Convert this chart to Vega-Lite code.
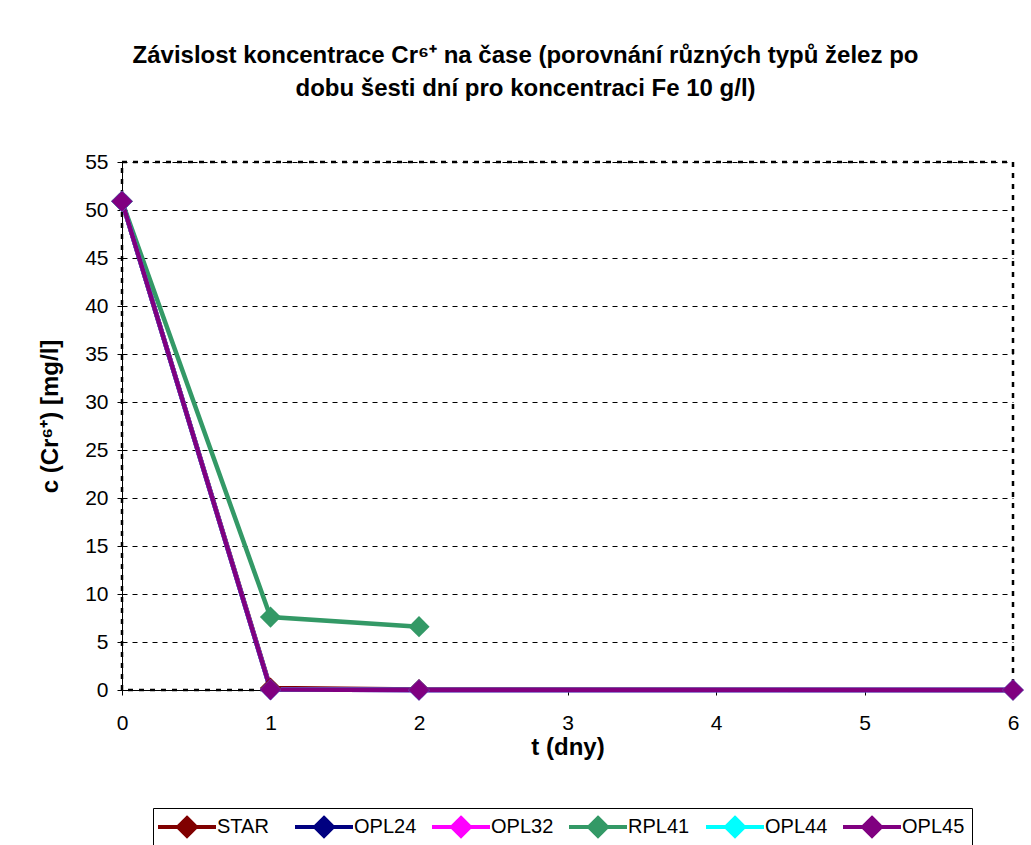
{
  "$schema": "https://vega.github.io/schema/vega-lite/v6.json",
  "width": 891,
  "height": 528,
  "autosize": {"type": "none"},
  "padding": {"left": 122, "top": 162, "right": 18, "bottom": 155},
  "background": "white",
  "title": {
    "text": ["Závislost koncentrace Cr⁶⁺ na čase (porovnání různých typů želez po", "dobu šesti dní pro koncentraci Fe 10 g/l)"],
    "anchor": "middle",
    "dx": -42,
    "offset": 50,
    "font": "Liberation Sans",
    "fontSize": 24,
    "fontWeight": "bold",
    "lineHeight": 33,
    "color": "black"
  },
  "config": {
    "font": "Liberation Sans",
    "view": {"stroke": "black", "strokeWidth": 2.5, "strokeDash": [5, 6]}
  },
  "data": {
    "values": [
      {"t": 0, "c": 50.9, "serie": "STAR"},
      {"t": 1, "c": 0.2, "serie": "STAR"},
      {"t": 2, "c": 0.05, "serie": "STAR"},
      {"t": 6, "c": 0, "serie": "STAR"},
      {"t": 0, "c": 50.9, "serie": "OPL24"},
      {"t": 1, "c": 0.05, "serie": "OPL24"},
      {"t": 2, "c": 0, "serie": "OPL24"},
      {"t": 6, "c": 0, "serie": "OPL24"},
      {"t": 0, "c": 50.9, "serie": "OPL32"},
      {"t": 1, "c": 0.05, "serie": "OPL32"},
      {"t": 2, "c": 0, "serie": "OPL32"},
      {"t": 6, "c": 0, "serie": "OPL32"},
      {"t": 0, "c": 50.9, "serie": "RPL41"},
      {"t": 1, "c": 7.6, "serie": "RPL41"},
      {"t": 2, "c": 6.6, "serie": "RPL41"},
      {"t": 0, "c": 50.9, "serie": "OPL44"},
      {"t": 1, "c": 0.05, "serie": "OPL44"},
      {"t": 2, "c": 0, "serie": "OPL44"},
      {"t": 6, "c": 0, "serie": "OPL44"},
      {"t": 0, "c": 50.9, "serie": "OPL45"},
      {"t": 1, "c": 0.05, "serie": "OPL45"},
      {"t": 2, "c": 0, "serie": "OPL45"},
      {"t": 6, "c": 0, "serie": "OPL45"}
    ]
  },
  "encoding": {
    "x": {
      "field": "t",
      "type": "quantitative",
      "scale": {"domain": [0, 6], "nice": false},
      "axis": {
        "title": "t (dny)",
        "values": [0, 1, 2, 3, 4, 5, 6],
        "grid": false,
        "labelFlush": false,
        "domainColor": "black",
        "domainWidth": 1,
        "tickColor": "black",
        "tickSize": 5,
        "labelFontSize": 21,
        "labelColor": "black",
        "labelPadding": 17,
        "titleFontSize": 24,
        "titleFontWeight": "bold",
        "titleColor": "black",
        "titlePadding": 2,
        "labelFont": "Liberation Sans",
        "titleFont": "Liberation Sans"
      }
    },
    "y": {
      "field": "c",
      "type": "quantitative",
      "scale": {"domain": [0, 55], "nice": false},
      "axis": {
        "title": "c (Cr⁶⁺) [mg/l]",
        "values": [0, 5, 10, 15, 20, 25, 30, 35, 40, 45, 50, 55],
        "grid": true,
        "labelFlush": false,
        "gridColor": "black",
        "gridDash": [5, 5],
        "gridWidth": 1,
        "domainColor": "black",
        "domainWidth": 1,
        "tickColor": "black",
        "tickSize": 5,
        "labelFontSize": 21,
        "labelColor": "black",
        "labelPadding": 9,
        "titleFontSize": 24,
        "titleFontWeight": "bold",
        "titleColor": "black",
        "titleX": -65,
        "titleY": 254,
        "titleAlign": "center",
        "titleBaseline": "alphabetic",
        "labelFont": "Liberation Sans",
        "titleFont": "Liberation Sans"
      }
    },
    "color": {
      "field": "serie",
      "type": "nominal",
      "scale": {
        "domain": ["STAR", "OPL24", "OPL32", "RPL41", "OPL44", "OPL45"],
        "range": ["#800000", "#000080", "#FF00FF", "#339966", "#00FFFF", "#800080"]
      },
      "legend": {
        "title": null,
        "orient": "none",
        "legendX": 31,
        "legendY": 646,
        "direction": "horizontal",
        "columns": 6,
        "gridAlign": "all",
        "columnPadding": 7,
        "symbolType": "M-2.9,0H2.9M0,-0.9L0.9,0L0,0.9L-0.9,0Z",
        "symbolSize": 400,
        "symbolOffset": 15,
        "symbolStrokeWidth": 4,
        "labelFontSize": 20,
        "labelFont": "Liberation Sans",
        "labelColor": "black",
        "labelOffset": 18,
        "strokeColor": "black",
        "padding": 7,
        "encode": {
          "symbols": {"update": {"fill": {"scale": "color", "field": "value"}, "opacity": {"value": 1}}}
        }
      }
    }
  },
  "layer": [
    {"mark": {"type": "line", "strokeWidth": 4.5}},
    {"mark": {"type": "point", "shape": "diamond", "filled": true, "size": 450, "opacity": 1}}
  ]
}
